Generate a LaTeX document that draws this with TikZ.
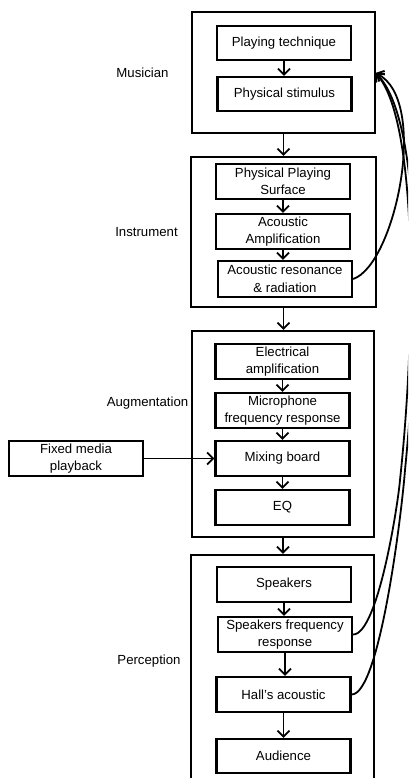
\documentclass[tikz,border=0pt]{standalone}
\usepackage{fontspec}
\setmainfont{Liberation Sans}
\usetikzlibrary{arrows.meta}
\begin{document}
\begin{tikzpicture}[x=1pt,y=-1pt,
  font=\fontsize{13.2}{17.5}\selectfont,
  stage/.style={draw, line width=2.2pt},
  item/.style={draw, line width=2.2pt, minimum width=134pt, minimum height=35pt,
    align=center, inner sep=0pt},
  label/.style={inner sep=0pt},
  tip/.style={-{Straight Barb[length=6pt,width=12pt,line width=1.8pt]}},
  arr/.style={line width=1.8pt, tip},
  loop/.style={line width=1.8pt, tip}
]
\useasboundingbox (0,0) rectangle (408,778);
\clip (0,0) rectangle (408,778);

% stage frames
\node[stage, minimum width=183pt, minimum height=121pt, inner sep=0pt] (mus) at (283.5,72.5) {};
\node[stage, minimum width=185pt, minimum height=150pt, inner sep=0pt] (ins) at (283.5,232) {};
\node[stage, minimum width=182pt, minimum height=206pt, inner sep=0pt] (aug) at (283,434) {};
\node[stage, minimum width=183pt, minimum height=260pt, inner sep=0pt] (per) at (282.5,685) {};

% stage names
\node[label] (lmus) at (142.5,73) {Musician};
\node[label] (lins) at (146.5,232) {Instrument};
\node[label] (laug) at (147.5,403) {Augmentation};
\node[label] (lper) at (149,661) {Perception};

% Musician
\node[item, minimum height=34pt] (pt) at (284,43) {Playing technique};
\node[item, minimum height=34pt] (ps) at (284.5,94) {Physical stimulus};
% Instrument
\node[item] (pps) at (283,181.5) {Physical Playing\\Surface};
\node[item] (aa) at (283,231.5) {Acoustic\\Amplification};
\node[item, minimum height=36pt] (ar) at (285,279) {Acoustic resonance\\\& radiation};
% Augmentation
\node[item] (ea) at (282.5,361.5) {Electrical\\amplification};
\node[item] (mfr) at (282.5,410.5) {Microphone\\frequency response};
\node[item] (mb) at (282.5,458.5) {Mixing board};
\node[item] (eq) at (282.5,507.5) {EQ};
\node[item] (fmp) at (76,458.5) {Fixed media\\playback};
% Perception
\node[item] (sp) at (284,584.5) {Speakers};
\node[item] (sfr) at (285,634.5) {Speakers frequency\\response};
\node[item] (ha) at (283.5,694.5) {Hall's acoustic};
\node[item, minimum height=34pt] (au) at (283.5,756) {Audience};

% signal chain
\draw[arr] (pt.south) -- (pt.south |- ps.north);
\draw[arr] (mus.south) -- (mus.south |- ins.north);
\draw[arr] (pps.south) -- (pps.south |- aa.north);
\draw[arr] (aa.south) -- (aa.south |- ar.north);
\draw[arr] (ins.south) -- (ins.south |- aug.north);
\draw[arr] (ea.south) -- (ea.south |- mfr.north);
\draw[arr] (mfr.south) -- (mfr.south |- mb.north);
\draw[arr] (mb.south) -- (mb.south |- eq.north);
\draw[arr] (aug.south) -- (aug.south |- per.north);
\draw[arr] (sp.south) -- (sp.south |- sfr.north);
\draw[arr] (sfr.south) -- (sfr.south |- ha.north);
\draw[arr] (ha.south) -- (ha.south |- au.north);
\draw[arr] (fmp.east) -- (mb.west);

% feedback to the musician
\coordinate (fb) at (375.5,73);
\draw[loop] (ar.east) .. controls (395,265) and (430,100) .. (fb);
\draw[loop] (sfr.east) .. controls (378,634.5) and (398,504) .. (400,480)
  .. controls (416,330) and (418,120) .. (fb);
\draw[loop] (ha.east) .. controls (380,694.5) and (402,510) .. (405,470)
  .. controls (420,320) and (422,118) .. (fb);
\end{tikzpicture}
\end{document}
